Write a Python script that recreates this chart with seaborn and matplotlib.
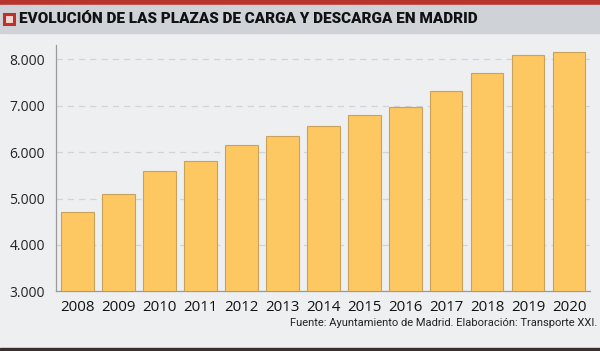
import pandas as pd
import matplotlib.pyplot as plt
import matplotlib.patches as mpatches
import seaborn as sns

# datos: plazas de carga y descarga en Madrid
years = ['2008', '2009', '2010', '2011', '2012', '2013', '2014',
         '2015', '2016', '2017', '2018', '2019', '2020']
plazas = [4710, 5090, 5590, 5805, 6145, 6355, 6570,
          6790, 6970, 7325, 7710, 8100, 8165]
yticks = [3000, 4000, 5000, 6000, 7000, 8000]

title = 'EVOLUCIÓN DE LAS PLAZAS DE CARGA Y DESCARGA EN MADRID'
source = 'Fuente: Ayuntamiento de Madrid. Elaboración: Transporte XXI.'

df = pd.DataFrame({'year': years, 'plazas': plazas})

sns.set_theme(style='white')
plt.rcParams['font.family'] = ['Open Sans', 'DejaVu Sans']

bg = '#eeeff1'
fig = plt.figure(figsize=(6, 3.51), dpi=100, facecolor=bg)
ax = fig.add_axes([0.0938, 0.170, 0.8895, 0.702])
ax.set_facecolor(bg)

sns.barplot(data=df, x='year', y='plazas', color='#fdc862', saturation=1,
            width=0.8, edgecolor='#c9a35c', linewidth=0.8, ax=ax, zorder=3)

ax.set_ylim(3000, 8310)
ax.set_xlim(-0.51, 12.51)
ax.set_yticks(yticks)
ax.set_yticklabels([f'{v:,}'.replace(',', '.') for v in yticks])
ax.set_xlabel('')
ax.set_ylabel('')
ax.yaxis.grid(True, linestyle=(0, (5, 4)), color='#d2d3d6', linewidth=0.9, zorder=0)
ax.set_axisbelow(True)
for s in ['top', 'right']:
    ax.spines[s].set_visible(False)
ax.spines['left'].set_color('#9a9a9a')
ax.spines['bottom'].set_color('#9a9a9a')
ax.spines['left'].set_linewidth(0.9)
ax.spines['bottom'].set_linewidth(0.9)
ax.tick_params(axis='y', length=0, pad=8, labelsize=10, labelcolor='#222222')
ax.tick_params(axis='x', length=0, pad=6, labelsize=10.8, labelcolor='#111111')

# cabecera
fig.patches.append(mpatches.Rectangle((0, 1 - 4 / 351), 1, 4 / 351, transform=fig.transFigure,
                                      color='#b8352e', zorder=0))
fig.patches.append(mpatches.Rectangle((0, 1 - 33 / 351), 1, 28 / 351, transform=fig.transFigure,
                                      color='#cfd3d8', zorder=0))
fig.patches.append(mpatches.Rectangle((4 / 600, 1 - 24 / 351), 10 / 600, 10 / 351,
                                      transform=fig.transFigure, facecolor='#f3d6d2',
                                      edgecolor='#c0302a', linewidth=2.2, zorder=1))
fig.text(19 / 600, 1 - 19 / 351, title, ha='left', va='center', fontsize=11,
         fontweight='heavy', color='#111111', family=['Roboto', 'DejaVu Sans'])

# pie
fig.patches.append(mpatches.Rectangle((0, 0), 1, 3 / 351, transform=fig.transFigure,
                                      color='#3a3030', zorder=0))
fig.text(597 / 600, 1 - 323 / 351, source, ha='right', va='center', fontsize=8,
         color='#222222', family=['Roboto', 'DejaVu Sans'])

plt.savefig('out.png', dpi=100, facecolor=bg)
